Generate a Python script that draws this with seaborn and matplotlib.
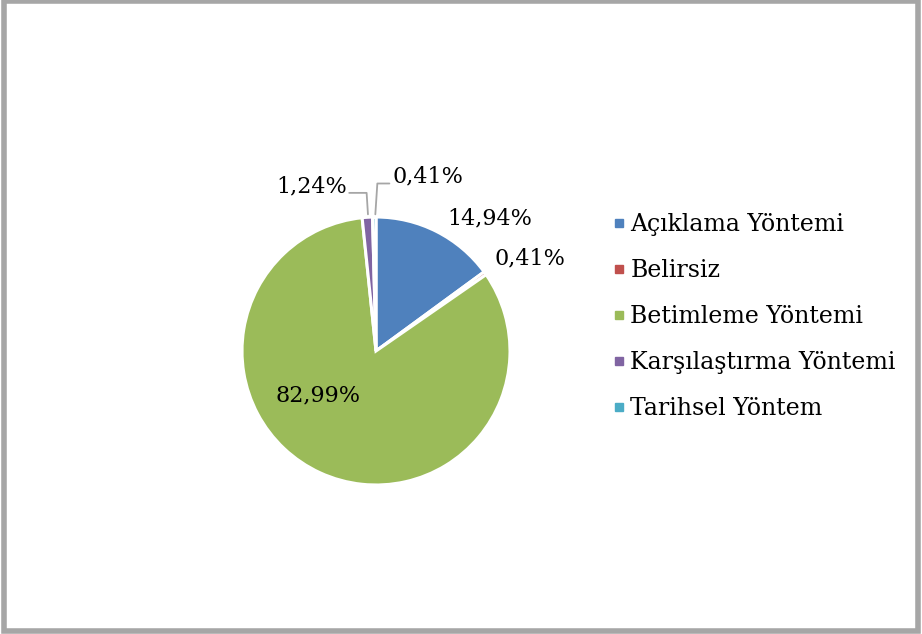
import numpy as np
import matplotlib
matplotlib.use("Agg")
import matplotlib.pyplot as plt
from matplotlib.lines import Line2D
from matplotlib.patches import Rectangle
import seaborn as sns

# Veriler
categories = ["Açıklama Yöntemi", "Belirsiz", "Betimleme Yöntemi",
              "Karşılaştırma Yöntemi", "Tarihsel Yöntem"]
values = [14.94, 0.41, 82.99, 1.24, 0.41]
labels = ["14,94%", "0,41%", "82,99%", "1,24%", "0,41%"]
colors = ["#4F81BD", "#C0504D", "#9BBB59", "#8064A2", "#4BACC6"]

sns.set_theme(style="white")
plt.rcParams['font.family'] = ['DejaVu Serif', 'DejaVu Sans']
plt.rcParams['text.color'] = 'black'

W, H = 922, 634
fig = plt.figure(figsize=(W / 100, H / 100), dpi=100)

# pasta konumu (piksel)
cx, cy, r = 376, 351, 134
ax = fig.add_axes([(cx - r) / W, (H - cy - r) / H, 2 * r / W, 2 * r / H])

wedges, _ = ax.pie(values, colors=colors, startangle=90, counterclock=False,
                   radius=1.0, wedgeprops=dict(edgecolor="white", linewidth=2.2))
ax.set_xlim(-1, 1)
ax.set_ylim(-1, 1)
ax.set_aspect("equal")
ax.axis("off")

# etiket konumları (yarıçap birimi)
label_pos = [(0.85, 0.99), (1.15, 0.69), (-0.43, -0.33), (-0.48, 1.23), (0.39, 1.30)]
for lab, (x, y) in zip(labels, label_pos):
    ax.text(x, y, lab, ha="center", va="center", fontsize=16, color="black",
            clip_on=False)

# kılavuz çizgileri
lc = "#a6a6a6"
ax.plot([-0.2, -0.07, -0.06], [1.18, 1.18, 1.02], color=lc, lw=1.3, clip_on=False)
ax.plot([0.10, 0.01, -0.005], [1.25, 1.25, 1.02], color=lc, lw=1.3, clip_on=False)

handles = [Line2D([], [], marker="s", linestyle="", markersize=6,
                  markerfacecolor=c, markeredgecolor=c) for c in colors]
fig.legend(handles, categories, loc="upper left", bbox_to_anchor=(0.641, 0.697),
           frameon=False, fontsize=17, handletextpad=0.22, handlelength=0.55,
           labelspacing=0.97, labelcolor="black")

fig.patches.append(Rectangle((0.004, 0.004), 0.992, 0.994, transform=fig.transFigure,
                             fill=False, edgecolor="#a6a6a6", linewidth=4))

fig.savefig("out.png", dpi=100)
